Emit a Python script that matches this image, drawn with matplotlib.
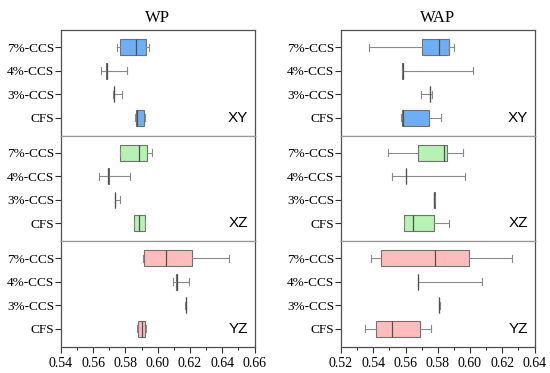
import numpy as np
import matplotlib.pyplot as plt
from matplotlib.ticker import MultipleLocator

# rows: CFS, 3%-CCS, 4%-CCS, 7%-CCS ; cols: whislo, q1, med, q3, whishi
categories = ['CFS', '3%-CCS', '4%-CCS', '7%-CCS']
planes = ['XY', 'XZ', 'YZ']
box_colors = ['#6eaef5', '#b6f2b2', '#ffbcbc']

wp_xy = [[0.5861, 0.5867, 0.5872, 0.5915, 0.5921],
         [0.5724, 0.5727, 0.5729, 0.5731, 0.5776],
         [0.5648, 0.5680, 0.5683, 0.5686, 0.5811],
         [0.5749, 0.5766, 0.5863, 0.5925, 0.5946]]
wp_xz = [[0.5853, 0.5855, 0.5886, 0.5921, 0.5923],
         [0.5732, 0.5733, 0.5735, 0.5737, 0.5766],
         [0.5636, 0.5690, 0.5693, 0.5696, 0.5828],
         [0.5763, 0.5764, 0.5882, 0.5931, 0.5964]]
wp_yz = [[0.5869, 0.5880, 0.5900, 0.5923, 0.5925],
         [0.6172, 0.6174, 0.6175, 0.6177, 0.6178],
         [0.6097, 0.6116, 0.6119, 0.6122, 0.6196],
         [0.5907, 0.5915, 0.6051, 0.6214, 0.6444]]

wap_xy = [[0.5574, 0.5576, 0.5586, 0.5746, 0.5818],
          [0.5696, 0.5750, 0.5752, 0.5755, 0.5762],
          [0.5576, 0.5580, 0.5583, 0.5586, 0.6017],
          [0.5374, 0.5704, 0.5810, 0.5870, 0.5899]]
wap_xz = [[0.5589, 0.5591, 0.5649, 0.5777, 0.5872],
          [0.5775, 0.5777, 0.5779, 0.5781, 0.5783],
          [0.5516, 0.5600, 0.5603, 0.5606, 0.5971],
          [0.5493, 0.5679, 0.5837, 0.5859, 0.5958]]
wap_yz = [[0.5349, 0.5419, 0.5518, 0.5690, 0.5760],
          [0.5805, 0.5807, 0.5808, 0.5809, 0.5811],
          [0.5676, 0.5677, 0.5678, 0.5680, 0.6073],
          [0.5384, 0.5448, 0.5785, 0.5996, 0.6260]]

wp_ticks = [0.54, 0.56, 0.58, 0.60, 0.62, 0.64, 0.66]
wap_ticks = [0.52, 0.54, 0.56, 0.58, 0.60, 0.62, 0.64]

serif = 'Liberation Serif'
frame_col = '#505050'
div_col = '#9a9a9a'

fig = plt.figure(figsize=(5.5, 3.73), dpi=100)
W, H = 550, 373


def make_stats(rows):
    return [dict(whislo=r[0], q1=r[1], med=r[2], q3=r[3], whishi=r[4]) for r in rows]


columns = [('WP', [wp_xy, wp_xz, wp_yz], wp_ticks, 61),
           ('WAP', [wap_xy, wap_xz, wap_yz], wap_ticks, 341)]

top_px, bot_px = 30, 347
ph = (bot_px - top_px) / 3

for title, panels, ticks, left_px in columns:
    for i, rows in enumerate(panels):
        y0 = 1 - (top_px + ph * (i + 1)) / H
        ax = fig.add_axes([left_px / W, y0, 193.5 / W, ph / H])
        pos = np.arange(1, len(categories) + 1)
        ax.bxp(make_stats(rows), positions=pos, orientation='horizontal',
               widths=0.68, patch_artist=True, showfliers=False, capwidths=0.3,
               boxprops=dict(facecolor=box_colors[i], edgecolor='#707070', linewidth=0.8),
               medianprops=dict(color='#505050', linewidth=0.9),
               whiskerprops=dict(color='#8a8a8a', linewidth=0.8),
               capprops=dict(color='#8a8a8a', linewidth=0.8))
        ax.set_ylim(0.23, 4.73)
        ax.set_xlim(ticks[0], ticks[-1])
        ax.set_yticks(pos)
        ax.set_yticklabels(categories, fontfamily=serif, fontsize=9.5)
        ax.tick_params(axis='y', length=4, width=0.8, color='#303030', pad=1)
        for s in ax.spines.values():
            s.set_color(frame_col)
            s.set_linewidth(0.9)
        if i > 0:
            ax.spines['top'].set_color(div_col)
        if i < 2:
            ax.spines['bottom'].set_color(div_col)
            ax.tick_params(axis='x', which='both', bottom=False, labelbottom=False)
        else:
            ax.set_xticks(ticks)
            ax.set_xticklabels(['%.2f' % t for t in ticks], fontfamily=serif, fontsize=10)
            ax.xaxis.set_minor_locator(MultipleLocator(0.01))
            ax.tick_params(axis='x', which='major', length=4, width=0.8, color='#303030')
            ax.tick_params(axis='x', which='minor', length=2.5, width=0.8, color='#303030')
        ax.text(0.965, 1, planes[i], transform=ax.get_yaxis_transform(),
                ha='right', va='center', fontfamily='Liberation Sans', fontsize=11)
        if i == 0:
            ax.set_title(title, fontfamily=serif, fontsize=12, pad=6)

fig.savefig('out.png', dpi=100)
